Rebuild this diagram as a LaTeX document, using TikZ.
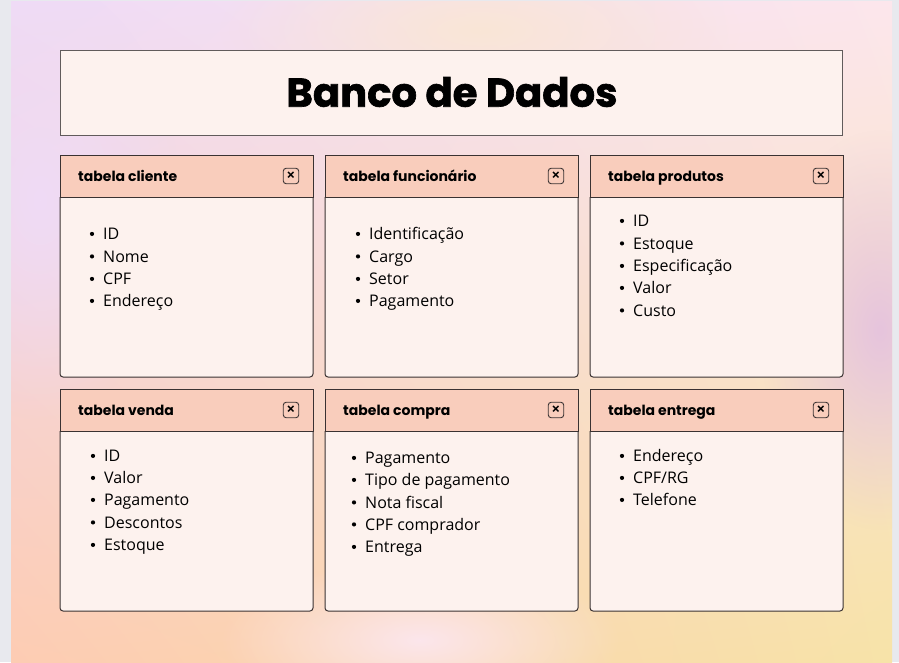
\documentclass[tikz,border=0pt]{standalone}
\usepackage{fontspec}
\setmainfont{Open Sans}
\newfontfamily\titlefont{Poppins}[BoldFeatures={FakeBold=1.6}]
\newfontfamily\headfont{Poppins}
\usetikzlibrary{positioning,shadings,fadings}
\tikzfading[name=softblob, inner color=transparent!0, outer color=transparent!100]
\definecolor{bodyc}{HTML}{FDF2EE}
\definecolor{headc}{HTML}{F9CDBC}
\definecolor{edgec}{HTML}{3A3232}
\definecolor{greyc}{HTML}{E8E9EE}
\definecolor{tl}{HTML}{EFDBF6}
\definecolor{tr}{HTML}{FCE6EC}
\definecolor{bl}{HTML}{FDCCB3}
\definecolor{br}{HTML}{F7E3A8}
\definecolor{midlav}{HTML}{E6C4DD}
\definecolor{peachy}{HTML}{FAE6D6}
\tikzset{
  headtext/.style={anchor=base west, font=\headfont\bfseries\fontsize{14}{15}\selectfont, text=black, inner sep=0pt},
  itemtext/.style={anchor=base west, font=\fontsize{16}{18}\selectfont, text=black, inner sep=0pt},
  bulletdot/.style={circle, fill=black, inner sep=0pt, minimum size=4.2pt},
  closebox/.style={draw=edgec, line width=0.9pt, rounded corners=3pt, minimum width=15.5pt, minimum height=15.5pt, inner sep=0pt},
  cardedge/.style={draw=edgec, line width=1pt},
  blob/.style={path fading=softblob},
}
% #1 name, #2 x-left, #3 y-top, #4 title
\newcommand{\mkcard}[4]{%
  \fill[bodyc] (#2,#3+42) {[rounded corners=3pt] -- (#2,#3+222) -- (#2+253,#3+222)} -- (#2+253,#3+42) -- cycle;
  \draw[cardedge] (#2,#3+42) {[rounded corners=3pt] -- (#2,#3+222) -- (#2+253,#3+222)} -- (#2+253,#3+42);
  \node[cardedge, fill=headc, anchor=north west, minimum width=253pt, minimum height=42pt, inner sep=0pt] (#1) at (#2,#3) {};
  \node[headtext] (#1-t) at (#2+18,#3+26) {#4};
  \node[closebox] (#1-x) at (#2+231,#3+21) {};
  \node[font=\fontsize{15}{15}\selectfont\bfseries, inner sep=0pt] at (#1-x.center) {×};
}
% #1 name, #2 x-text, #3 baseline y, #4 text
\newcommand{\mkitem}[4]{%
  \node[itemtext] (#1) at (#2,#3+1) {#4};
  \node[bulletdot] (#1-b) at (#2-11,#3-4.6) {};
}
\begin{document}
\begin{tikzpicture}[x=1pt,y=-1pt]
\useasboundingbox (0,0) rectangle (899,662);
\fill[greyc] (0,0) rectangle (899,662);
\begin{scope}
\clip (11,1) rectangle (892,662);
\shade[upper left=tl, upper right=tr, lower left=bl, lower right=br] (11,1) rectangle (892,662);
% soft blobs
\fill[midlav, blob] (880,330) ellipse (120pt and 200pt);
\fill[tl, blob] (40,200) ellipse (140pt and 220pt);
\fill[peachy, blob] (480,30) ellipse (260pt and 90pt);
\fill[tr, blob] (420,640) ellipse (200pt and 80pt);
\end{scope}
% title
\node[draw=edgec!80, line width=1pt, fill=bodyc, anchor=north west, minimum width=782pt, minimum height=85pt, inner sep=0pt] (titlebox) at (60,50) {};
\node (title) at (452,92) {\resizebox{331pt}{!}{\titlefont\bfseries\fontsize{42}{42}\selectfont Banco de Dados}};
% cards
\mkcard{cli}{60}{155}{tabela cliente}
\mkcard{fun}{325}{155}{tabela funcionário}
\mkcard{pro}{590}{155}{tabela produtos}
\mkcard{ven}{60}{389}{tabela venda}
\mkcard{com}{325}{389}{tabela compra}
\mkcard{ent}{590}{389}{tabela entrega}
% cliente
\mkitem{cli1}{103}{238.5}{ID}
\mkitem{cli2}{103}{261}{Nome}
\mkitem{cli3}{103}{283.5}{CPF}
\mkitem{cli4}{103}{305.5}{Endereço}
% funcionario
\mkitem{fun1}{369}{238.5}{Identificação}
\mkitem{fun2}{369}{261}{Cargo}
\mkitem{fun3}{369}{283.5}{Setor}
\mkitem{fun4}{369}{305.5}{Pagamento}
% produtos
\mkitem{pro1}{633}{225.5}{ID}
\mkitem{pro2}{633}{248}{Estoque}
\mkitem{pro3}{633}{270.5}{Especificação}
\mkitem{pro4}{633}{292.5}{Valor}
\mkitem{pro5}{633}{315}{Custo}
% venda
\mkitem{ven1}{104}{460.5}{ID}
\mkitem{ven2}{104}{482.5}{Valor}
\mkitem{ven3}{104}{504.5}{Pagamento}
\mkitem{ven4}{104}{527}{Descontos}
\mkitem{ven5}{104}{549.5}{Estoque}
% compra
\mkitem{com1}{365}{462.5}{Pagamento}
\mkitem{com2}{365}{484.5}{Tipo de pagamento}
\mkitem{com3}{365}{507}{Nota fiscal}
\mkitem{com4}{365}{529}{CPF comprador}
\mkitem{com5}{365}{551.5}{Entrega}
% entrega
\mkitem{ent1}{633}{460.5}{Endereço}
\mkitem{ent2}{633}{482.5}{CPF/RG}
\mkitem{ent3}{633}{504.5}{Telefone}
\end{tikzpicture}
\end{document}
